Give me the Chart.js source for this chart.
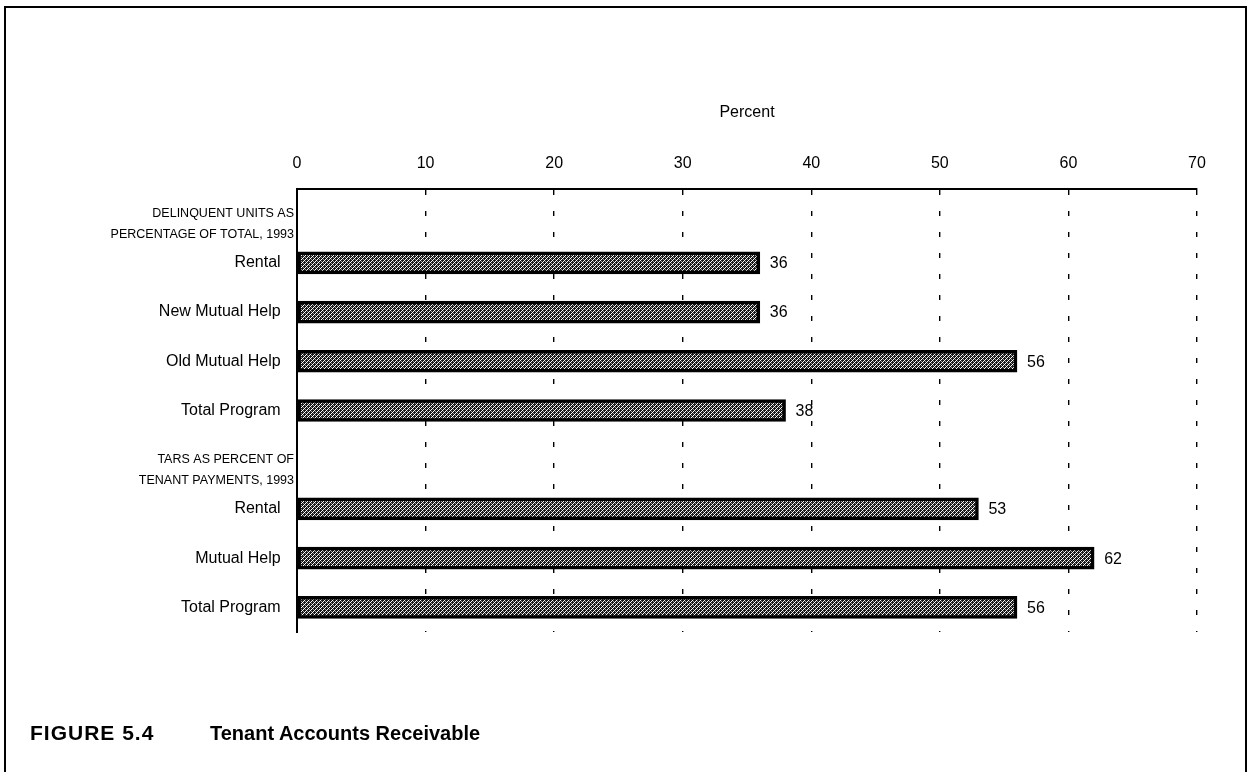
<!DOCTYPE html>
<html>
<head>
<meta charset="utf-8">
<title>Tenant Accounts Receivable</title>
<script src="https://cdn.jsdelivr.net/npm/chart.js@4.4.0/dist/chart.umd.min.js"></script>
<style>
  html, body { margin: 0; padding: 0; background: #fff; width: 1251px; height: 772px; overflow: hidden; }
  #frame { position: absolute; left: 4px; top: 6px; width: 1243px; height: 820px;
           border: 2px solid #000; border-bottom: none; box-sizing: border-box; }
  #wrap { position: absolute; left: 0; top: 0; width: 1251px; height: 772px; }
  .caption { position: absolute; top: 722px; font: bold 20px "Liberation Sans", Arial, Helvetica, sans-serif;
             color: #000; white-space: nowrap; }
  .fig { font-size: 21px; letter-spacing: 1px; top: 721px; }
</style>
</head>
<body>
<div id="frame"></div>
<div id="wrap"><canvas id="chart"></canvas></div>
<div class="caption fig" style="left:30px">FIGURE 5.4</div>
<div class="caption" style="left:210px">Tenant Accounts Receivable</div>
<script>
// Row labels: group headings are multi-line arrays, items are plain strings
const categories = [
  ['', 'DELINQUENT UNITS AS', 'PERCENTAGE OF TOTAL, 1993'],
  'Rental',
  'New Mutual Help',
  'Old Mutual Help',
  'Total Program',
  ['', 'TARS AS PERCENT OF', 'TENANT PAYMENTS, 1993'],
  'Rental',
  'Mutual Help',
  'Total Program'
];
// Percent values (null on heading rows)
const percentValues = [null, 36, 36, 56, 38, null, 53, 62, 56];
// Axis tick values along the top
const percentTicks = [0, 10, 20, 30, 40, 50, 60, 70];

const FONT = '"Liberation Sans", Arial, Helvetica, sans-serif';

// Dark crosshatch fill used for the bars
function makeHatch() {
  const c = document.createElement('canvas');
  c.width = 4; c.height = 4;
  const g = c.getContext('2d');
  g.fillStyle = '#1a1a1a';
  g.fillRect(0, 0, 4, 4);
  for (let x = 0; x < 4; x++) {
    for (let y = 0; y < 4; y++) {
      if ((x + y) % 4 === 0) {
        g.fillStyle = '#ffffff';
        g.fillRect(x, y, 1, 1);
      } else if ((x - y + 4) % 4 === 0) {
        g.fillStyle = '#9a9a9a';
        g.fillRect(x, y, 1, 1);
      }
    }
  }
  return document.getElementById('chart').getContext('2d').createPattern(c, 'repeat');
}

// Writes each bar's value just past its end
const valueLabels = {
  id: 'valueLabels',
  afterDatasetsDraw(chart) {
    const ctx = chart.ctx;
    const meta = chart.getDatasetMeta(0);
    ctx.save();
    ctx.font = '16px ' + FONT;
    ctx.fillStyle = '#000';
    ctx.textAlign = 'left';
    ctx.textBaseline = 'middle';
    meta.data.forEach((bar, i) => {
      const v = percentValues[i];
      if (v === null || v === undefined) return;
      ctx.fillText(String(v), bar.x + 10, bar.y + 1);
    });
    ctx.restore();
  }
};

new Chart(document.getElementById('chart'), {
  type: 'bar',
  data: {
    labels: categories,
    datasets: [{
      data: percentValues,
      backgroundColor: makeHatch(),
      borderColor: '#000',
      borderWidth: 3.5,
      borderSkipped: false,
      barThickness: 22
    }]
  },
  options: {
    indexAxis: 'y',
    responsive: true,
    maintainAspectRatio: false,
    animation: false,
    events: [],
    layout: { padding: { left: 0, top: 0, right: 54, bottom: 140 } },
    plugins: {
      legend: { display: false },
      tooltip: { enabled: false }
    },
    scales: {
      x: {
        type: 'linear',
        position: 'top',
        min: 0,
        max: 70,
        afterBuildTicks: (s) => { s.ticks = percentTicks.map(v => ({ value: v })); },
        afterFit: (s) => { s.height = 189; },
        ticks: { color: '#000', font: { family: FONT, size: 16 }, padding: 16 },
        grid: { color: '#000', lineWidth: 1.4, drawTicks: false },
        border: { display: true, color: '#000', width: 2, dash: [5, 16] },
        title: {
          display: true, text: 'Percent', color: '#000',
          font: { family: FONT, size: 16 }, padding: { top: 103, bottom: 0 }
        }
      },
      y: {
        type: 'category',
        afterFit: (s) => { s.width = 297; },
        ticks: {
          color: '#000',
          padding: 3,
          autoSkip: false,
          font: (ctx) => Array.isArray(categories[ctx.index])
            ? { family: FONT, size: 12.5, lineHeight: 1.65 }
            : { family: FONT, size: 16 },
          callback: function (value, index) {
            const l = categories[index];
            return Array.isArray(l) ? l : l + '   ';
          }
        },
        grid: { display: false, drawTicks: false },
        border: { display: true, color: '#000', width: 2 }
      }
    }
  },
  plugins: [valueLabels]
});
</script>
</body>
</html>
